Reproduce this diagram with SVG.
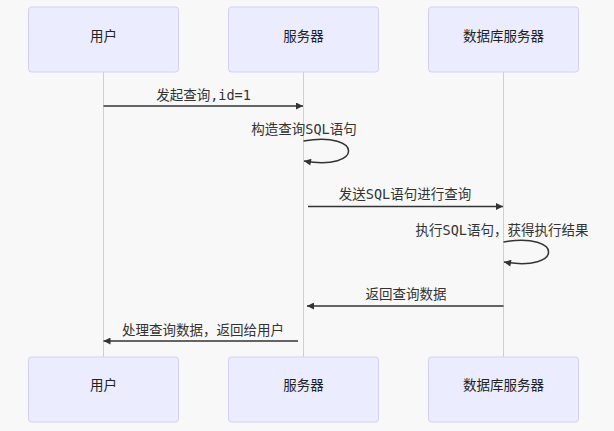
<svg xmlns="http://www.w3.org/2000/svg" width="614" height="431" viewBox="0 0 614 431">
<style>
.bg{fill:#f8f8f8}
.actor rect{fill:#ececff;stroke:#d3d0f5;stroke-width:1}
.actor text{font-family:"Noto Sans CJK SC","Noto Sans",sans-serif;font-size:13.5px;fill:#222;text-anchor:middle;dominant-baseline:central}
.life{stroke:#cfcfcf;stroke-width:1}
.msg{stroke:#333;stroke-width:1.5;fill:none}
.lbl{font-family:"DejaVu Sans Mono","Noto Sans CJK SC",monospace;font-size:13.5px;fill:#333;text-anchor:middle;dominant-baseline:central}
</style>
<defs>
<marker id="arrow" viewBox="0 0 10 10" refX="10" refY="5" markerWidth="10" markerHeight="7" markerUnits="userSpaceOnUse" orient="auto">
<path d="M0,0 L10,5 L0,10 z" fill="#333"/>
</marker>
</defs>
<rect class="bg" x="0" y="0" width="614" height="431"/>
<g id="lifelines">
<line class="life" x1="103.5" y1="72" x2="103.5" y2="357"/>
<line class="life" x1="303.5" y1="72" x2="303.5" y2="357"/>
<line class="life" x1="503.5" y1="72" x2="503.5" y2="357"/>
</g>
<g id="actor-user-top" class="actor"><rect x="28.5" y="7" width="150" height="65" rx="3"/><text x="103.5" y="35">用户</text></g>
<g id="actor-server-top" class="actor"><rect x="228.5" y="7" width="150" height="65" rx="3"/><text x="303.5" y="35">服务器</text></g>
<g id="actor-db-top" class="actor"><rect x="428.5" y="7" width="150" height="65" rx="3"/><text x="503.5" y="35">数据库服务器</text></g>
<g id="actor-user-bottom" class="actor"><rect x="28.5" y="357" width="150" height="65" rx="3"/><text x="103.5" y="384">用户</text></g>
<g id="actor-server-bottom" class="actor"><rect x="228.5" y="357" width="150" height="65" rx="3"/><text x="303.5" y="384">服务器</text></g>
<g id="actor-db-bottom" class="actor"><rect x="428.5" y="357" width="150" height="65" rx="3"/><text x="503.5" y="384">数据库服务器</text></g>
<g id="connectors">
<line class="msg" x1="103.5" y1="106" x2="303" y2="106" marker-end="url(#arrow)"/>
<path class="msg" d="M303.5,141 C363.5,131 363.5,171 304,161" marker-end="url(#arrow)"/>
<line class="msg" x1="308" y1="206.5" x2="503" y2="206.5" marker-end="url(#arrow)"/>
<path class="msg" d="M503.5,242 C563.5,232 563.5,272 504,262" marker-end="url(#arrow)"/>
<line class="msg" x1="503.5" y1="306" x2="307" y2="306" marker-end="url(#arrow)"/>
<line class="msg" x1="298" y1="341" x2="103.5" y2="341" marker-end="url(#arrow)"/>
</g>
<g id="labels">
<text class="lbl" x="203.5" y="95">发起查询,id=1</text>
<text class="lbl" x="304" y="129">构造查询SQL语句</text>
<text class="lbl" x="405" y="194">发送SQL语句进行查询</text>
<text class="lbl" x="502" y="230">执行SQL语句，获得执行结果</text>
<text class="lbl" x="406" y="294">返回查询数据</text>
<text class="lbl" x="203" y="330">处理查询数据，返回给用户</text>
</g>
</svg>
